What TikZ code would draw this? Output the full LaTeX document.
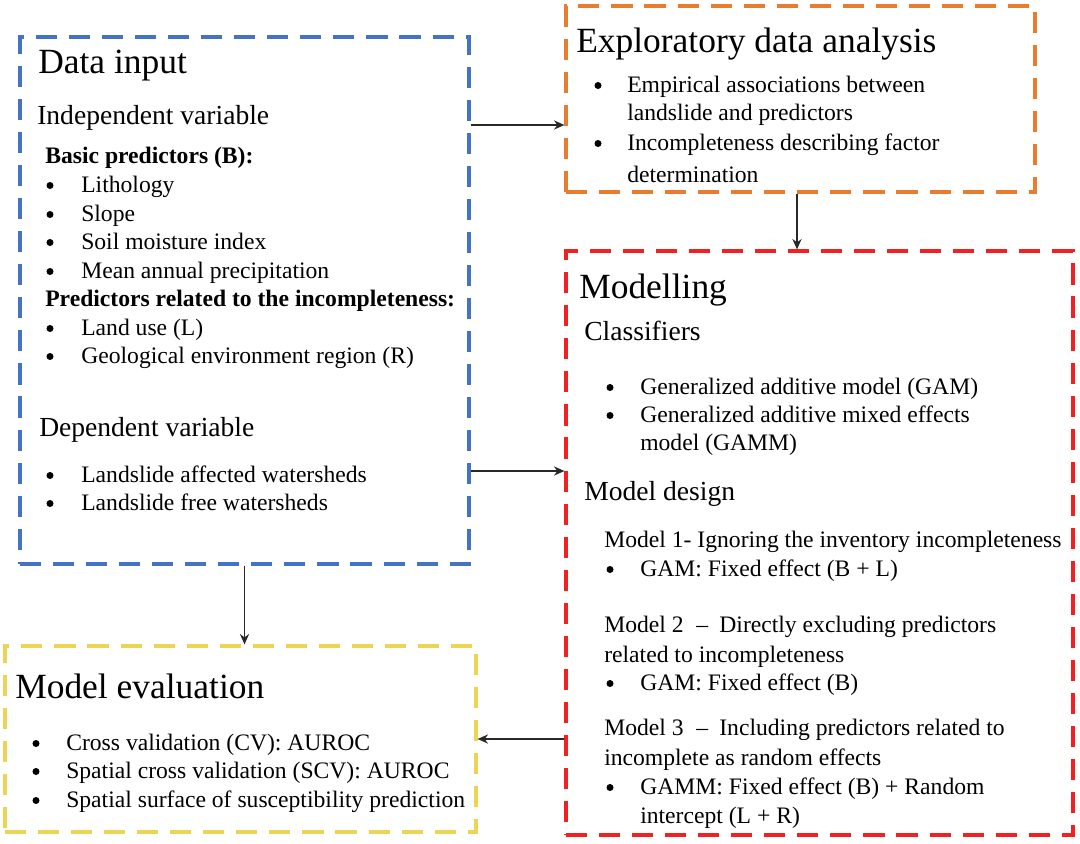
\documentclass[tikz,border=0pt]{standalone}
\usepackage{fontspec}
\setmainfont{Liberation Serif}
\usetikzlibrary{arrows.meta,fit}
\definecolor{dblue}{RGB}{68,114,196}
\definecolor{dorange}{RGB}{232,125,48}
\definecolor{dred}{RGB}{242,32,32}
\definecolor{dyellow}{RGB}{236,212,84}
\definecolor{ink}{RGB}{40,40,40}
\tikzset{
  >={Stealth[length=2.6mm,width=2.3mm]},
  frame/.style={draw=#1,line width=2.3pt,dash pattern=on 15pt off 8.5pt,inner sep=0pt},
  frame/.default=dblue,
  head/.style={anchor=base west,inner sep=0pt,font=\fontsize{25.2}{30}\selectfont},
  sub/.style={anchor=base west,inner sep=0pt,font=\fontsize{19.6}{23}\selectfont},
  txt/.style={anchor=base west,inner sep=0pt,font=\fontsize{16.8}{20}\selectfont},
  bold txt/.style={txt,font=\fontsize{16.8}{20}\selectfont\bfseries},
  bul/.style={circle,fill=black,inner sep=0pt,minimum size=1.75mm},
  flow/.style={->,draw=ink,line width=0.9pt},
}
\begin{document}
\begin{tikzpicture}[x=0.025cm,y=-0.025cm]
  \useasboundingbox (0,0) rectangle (1080,843);
  % frames
  \node[frame=dblue,fit={(20,37) (469,564)}] (din) {};
  \node[frame=dorange,fit={(566,6) (1035,192)}] (eda) {};
  \node[frame=dred,fit={(566,251) (1073,835)}] (mod) {};
  \node[frame=dyellow,fit={(5,646) (476,832)}] (eva) {};

  % data input
  \node[head] (dinT) at (38,73) {Data input};
  \node[sub] (dinI) at (37,124) {Independent variable};
  \node[bold txt] (dinB) at (45,163) {Basic predictors (B):};
  \foreach \y/\t [count=\i] in {192/Lithology,221/Slope,249/Soil moisture index,278/Mean annual precipitation}{
    \node[bul] (bb\i) at (50,{\y-6.5}) {};
    \node[txt] (b\i) at (81,\y) {\t};
  }
  \node[bold txt] (dinP) at (45,306) {Predictors related to the incompleteness:};
  \foreach \y/\t [count=\i] in {335/Land use (L),363/Geological environment region (R)}{
    \node[bul] (pb\i) at (50,{\y-6.5}) {};
    \node[txt] (p\i) at (81,\y) {\t};
  }
  \node[sub] (dinD) at (39,436) {Dependent variable};
  \foreach \y/\t [count=\i] in {482/Landslide affected watersheds,510/Landslide free watersheds}{
    \node[bul] (db\i) at (50,{\y-6.5}) {};
    \node[txt] (d\i) at (81,\y) {\t};
  }

  % exploratory data analysis
  \node[head] (edaT) at (576,52) {Exploratory data analysis};
  \node[bul] (eb1) at (598,85.5) {};
  \node[txt] (e1) at (627,92) {Empirical associations between};
  \node[txt] (e2) at (627,120) {landslide and predictors};
  \node[bul] (eb2) at (598,143.5) {};
  \node[txt] (e3) at (627,150) {Incompleteness describing factor};
  \node[txt] (e4) at (627,182) {determination};

  % modelling
  \node[head] (modT) at (579,298) {Modelling};
  \node[sub] (modC) at (584,340) {Classifiers};
  \node[bul] (cb1) at (610,387.5) {};
  \node[txt] (c1) at (640,394) {Generalized additive model (GAM)};
  \node[bul] (cb2) at (610,415.5) {};
  \node[txt] (c2) at (640,422) {Generalized additive mixed effects};
  \node[txt] (c3) at (640,450) {model (GAMM)};
  \node[sub] (modD) at (584,500) {Model design};
  \node[txt] (m1) at (604,547) {Model 1- Ignoring the inventory incompleteness};
  \node[bul] (mb1) at (610,569.5) {};
  \node[txt] (m1a) at (640,576) {GAM: Fixed effect (B + L)};
  \node[txt] (m2) at (604,632) {Model 2\hspace{9pt}–\hspace{8pt}Directly excluding predictors};
  \node[txt] (m2b) at (604,662) {related to incompleteness};
  \node[bul] (mb2) at (610,683.5) {};
  \node[txt] (m2a) at (640,690) {GAM: Fixed effect (B)};
  \node[txt] (m3) at (604,735) {Model 3\hspace{9pt}–\hspace{8pt}Including predictors related to};
  \node[txt] (m3b) at (604,765) {incomplete as random effects};
  \node[bul] (mb3) at (610,787.5) {};
  \node[txt] (m3a) at (640,794) {GAMM: Fixed effect (B) + Random};
  \node[txt] (m3c) at (640,823) {intercept (L + R)};

  % model evaluation
  \node[head] (evaT) at (15,698) {Model evaluation};
  \foreach \y/\t [count=\i] in {750/Cross validation (CV): AUROC,778/Spatial cross validation (SCV): AUROC,807/Spatial surface of susceptibility prediction}{
    \node[bul] (vb\i) at (36,{\y-6.5}) {};
    \node[txt] (v\i) at (66,\y) {\t};
  }

  % connectors
  \draw[flow] (din.east |- 0,125) -- (eda.west |- 0,125);
  \draw[flow] (din.east |- 0,471) -- (mod.west |- 0,471);
  \draw[flow] (eda.south -| 797,0) -- (mod.north -| 797,0);
  \draw[flow] (din.south) -- (din.south |- eva.north);
  \draw[flow] (mod.west |- 0,739) -- (eva.east |- 0,739);
\end{tikzpicture}
\end{document}
